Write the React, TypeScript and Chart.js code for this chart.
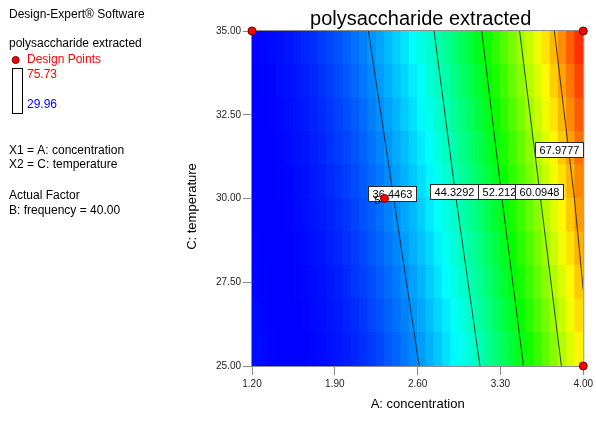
import React, { useEffect, useRef } from 'react';
import { Chart, registerables } from 'chart.js';

Chart.register(...registerables);

// ---- data ----
const xTicks = [1.2, 1.9, 2.6, 3.3, 4.0];
const yTicks = [25, 27.5, 30, 32.5, 35];

const respMin = 29.96;
const respMax = 75.73;

// concentration at the centre of each fill column
const columnCenters = [
  1.235, 1.305, 1.375, 1.445, 1.515, 1.585, 1.655, 1.725, 1.795, 1.865,
  1.935, 2.005, 2.075, 2.145, 2.215, 2.285, 2.355, 2.425, 2.495, 2.565,
  2.635, 2.705, 2.775, 2.845, 2.915, 2.985, 3.055, 3.125, 3.195, 3.265,
  3.335, 3.405, 3.475, 3.545, 3.615, 3.685, 3.755, 3.825, 3.895, 3.965,
];

// temperature bands of the fill rows
const rowBands: [number, number][] = [
  [25, 26], [26, 27], [27, 28], [28, 29], [29, 30],
  [30, 31], [31, 32], [32, 33], [33, 34], [34, 35],
];

// response in each cell (row by row, bottom to top)
const row255 = [30.5, 30.3, 30.1, 30.0, 30.0, 30.0, 30.0, 30.2, 30.3, 30.6, 30.9, 31.2, 31.6, 32.1, 32.6, 33.2, 33.8, 34.5, 35.3, 36.1, 37.0, 37.9, 38.9, 40.0, 41.1, 42.2, 43.5, 44.7, 46.1, 47.5, 48.9, 50.5, 52.0, 53.7, 55.3, 57.1, 58.9, 60.8, 62.7, 64.7];
const row265 = [30.4, 30.2, 30.0, 30.0, 30.0, 30.0, 30.1, 30.3, 30.5, 30.8, 31.1, 31.5, 31.9, 32.4, 33.0, 33.6, 34.3, 35.0, 35.8, 36.7, 37.6, 38.5, 39.5, 40.6, 41.8, 42.9, 44.2, 45.5, 46.9, 48.3, 49.8, 51.3, 52.9, 54.5, 56.3, 58.0, 59.8, 61.7, 63.7, 65.7];
const row275 = [30.2, 30.1, 30.0, 30.0, 30.0, 30.1, 30.2, 30.4, 30.7, 31.0, 31.3, 31.8, 32.3, 32.8, 33.4, 34.0, 34.7, 35.5, 36.3, 37.2, 38.1, 39.1, 40.2, 41.3, 42.4, 43.7, 44.9, 46.3, 47.7, 49.1, 50.6, 52.2, 53.8, 55.4, 57.2, 59.0, 60.8, 62.7, 64.6, 66.7];
const row285 = [30.1, 30.0, 30.0, 30.0, 30.0, 30.2, 30.3, 30.6, 30.9, 31.2, 31.6, 32.1, 32.6, 33.2, 33.8, 34.5, 35.2, 36.0, 36.9, 37.8, 38.7, 39.7, 40.8, 42.0, 43.1, 44.4, 45.7, 47.0, 48.4, 49.9, 51.4, 53.0, 54.7, 56.3, 58.1, 59.9, 61.8, 63.7, 65.6, 67.7];
const row295 = [30.0, 30.0, 30.0, 30.0, 30.1, 30.3, 30.5, 30.8, 31.1, 31.5, 31.9, 32.4, 33.0, 33.6, 34.2, 34.9, 35.7, 36.5, 37.4, 38.3, 39.3, 40.4, 41.5, 42.6, 43.8, 45.1, 46.4, 47.8, 49.2, 50.7, 52.3, 53.9, 55.5, 57.2, 59.0, 60.8, 62.7, 64.6, 66.6, 68.7];
const row305 = [30.0, 30.0, 30.0, 30.1, 30.2, 30.4, 30.7, 31.0, 31.3, 31.8, 32.2, 32.8, 33.3, 34.0, 34.7, 35.4, 36.2, 37.1, 38.0, 38.9, 39.9, 41.0, 42.1, 43.3, 44.6, 45.9, 47.2, 48.6, 50.1, 51.6, 53.1, 54.8, 56.4, 58.2, 59.9, 61.8, 63.7, 65.6, 67.6, 69.7];
const row315 = [30.0, 30.0, 30.0, 30.2, 30.4, 30.6, 30.9, 31.2, 31.6, 32.1, 32.6, 33.1, 33.7, 34.4, 35.1, 35.9, 36.7, 37.6, 38.5, 39.5, 40.6, 41.7, 42.8, 44.0, 45.3, 46.6, 48.0, 49.4, 50.9, 52.4, 54.0, 55.6, 57.3, 59.1, 60.9, 62.7, 64.6, 66.6, 68.6, 70.7];
const row325 = [30.0, 30.0, 30.1, 30.3, 30.5, 30.8, 31.1, 31.5, 31.9, 32.4, 32.9, 33.5, 34.1, 34.8, 35.6, 36.4, 37.2, 38.1, 39.1, 40.1, 41.2, 42.3, 43.5, 44.7, 46.0, 47.3, 48.7, 50.2, 51.7, 53.2, 54.8, 56.5, 58.2, 59.9, 61.8, 63.6, 65.5, 67.5, 69.5, 71.6];
const row335 = [30.0, 30.1, 30.2, 30.4, 30.7, 31.0, 31.3, 31.7, 32.2, 32.7, 33.3, 33.9, 34.6, 35.3, 36.1, 36.9, 37.8, 38.7, 39.7, 40.7, 41.8, 43.0, 44.2, 45.4, 46.7, 48.1, 49.5, 50.9, 52.5, 54.0, 55.6, 57.3, 59.0, 60.8, 62.7, 64.5, 66.5, 68.5, 70.5, 72.6];
const row345 = [30.1, 30.2, 30.4, 30.6, 30.9, 31.2, 31.6, 32.0, 32.5, 33.1, 33.7, 34.3, 35.0, 35.8, 36.6, 37.4, 38.3, 39.3, 40.3, 41.4, 42.5, 43.6, 44.9, 46.1, 47.5, 48.8, 50.3, 51.8, 53.3, 54.9, 56.5, 58.2, 60.0, 61.7, 63.6, 65.5, 67.4, 69.4, 71.5, 73.6];
const rowValues = [row255, row265, row275, row285, row295, row305, row315, row325, row335, row345];

// contour lines
const contourLevels = [36.4463, 44.3292, 52.2121, 60.0948, 67.9777];
const contourX = [
  [2.613, 2.398, 2.184],
  [3.127, 2.925, 2.739],
  [3.495, 3.313, 3.142],
  [3.815, 3.639, 3.462],
  [4.0, 3.925, 3.756],
];
const contourY = [
  [25, 30, 35],
  [25, 30, 35],
  [25, 30, 35],
  [25, 30, 35],
  [27.27, 30, 35],
];
const labelX = [2.386, 2.907, 3.31, 3.622, 3.794];
const labelY = [30.16, 30.21, 30.21, 30.21, 31.45];

// design points
const pointX = [1.2, 4.0, 4.0, 2.32];
const pointY = [35, 35, 25, 30];
const pointReps = [1, 1, 1, 5];

const panelLines = [
  'Design-Expert® Software',
  'polysaccharide extracted',
  'Design Points',
  'X1 = A: concentration',
  'X2 = C: temperature',
  'Actual Factor',
  'B: frequency = 40.00',
];

const FONT = 'Arial, "Liberation Sans", sans-serif';

function responseColor(v: number): string {
  let t = (v - respMin) / (respMax - respMin);
  t = Math.max(0, Math.min(1, t));
  let r = 0, g = 0, b = 0;
  if (t < 0.25) { r = 0; g = (255 * t) / 0.25; b = 255; }
  else if (t < 0.5) { r = 0; g = 255; b = 255 * (1 - (t - 0.25) / 0.25); }
  else if (t < 0.75) { r = (255 * (t - 0.5)) / 0.25; g = 255; b = 0; }
  else { r = 255; g = 255 * (1 - (t - 0.75) / 0.25); b = 0; }
  return `rgb(${Math.round(r)},${Math.round(g)},${Math.round(b)})`;
}

export default function App() {
  const ref = useRef<HTMLCanvasElement | null>(null);

  useEffect(() => {
    if (!ref.current) return;
    Chart.defaults.font.family = FONT;

    const barDatasets = rowBands.map((band, r) => ({
      type: 'bar',
      data: columnCenters.map(() => band),
      backgroundColor: rowValues[r].map((v) => responseColor(v)),
      borderWidth: 0,
      barPercentage: 1,
      categoryPercentage: 1,
      grouped: false,
      inflateAmount: 0.6,
      xAxisID: 'xc',
      yAxisID: 'y',
      order: 3,
    }));

    const contourDatasets = contourLevels.map((lvl, k) => ({
      type: 'line',
      data: contourX[k].map((x, j) => ({ x, y: contourY[k][j] })),
      borderColor: '#141414',
      borderWidth: 0.8,
      pointRadius: 0,
      tension: 0,
      fill: false,
      xAxisID: 'x',
      yAxisID: 'y',
      order: 2,
    }));

    const pointsDataset = {
      type: 'line',
      showLine: false,
      data: pointX.map((x, i) => ({ x, y: pointY[i] })),
      pointRadius: 4,
      pointBackgroundColor: '#ff0000',
      pointBorderColor: '#6a0000',
      pointBorderWidth: 1,
      clip: false,
      xAxisID: 'x',
      yAxisID: 'y',
      order: 1,
    };

    const pointsIndex = barDatasets.length + contourDatasets.length;

    const decor = {
      id: 'decor',
      beforeDatasetDraw(chart: any, args: any) {
        if (args.index !== pointsIndex) return;
        const ctx = chart.ctx as CanvasRenderingContext2D;
        const { left, top, right, bottom } = chart.chartArea;
        const sx = chart.scales.x;
        const sy = chart.scales.y;
        ctx.save();
        ctx.strokeStyle = '#8c8c8c';
        ctx.lineWidth = 1;
        ctx.strokeRect(left - 0.5, top - 0.5, right - left + 1, bottom - top + 1);
        // contour labels
        ctx.font = `11px ${FONT}`;
        ctx.textAlign = 'center';
        ctx.textBaseline = 'middle';
        contourLevels.forEach((lvl, k) => {
          const px = sx.getPixelForValue(labelX[k]);
          const py = sy.getPixelForValue(labelY[k]);
          const txt = lvl.toFixed(4);
          const w = Math.round(ctx.measureText(txt).width + 8);
          const h = 15;
          const bx = Math.round(px - w / 2) + 0.5;
          const by = Math.round(py - h / 2) + 0.5;
          ctx.fillStyle = '#ffffff';
          ctx.fillRect(bx, by, w, h);
          ctx.strokeStyle = '#2a2a2a';
          ctx.strokeRect(bx, by, w, h);
          ctx.fillStyle = '#000000';
          ctx.fillText(txt, bx + w / 2, by + h / 2 + 0.5);
        });
        // replicate counts
        pointReps.forEach((n, i) => {
          if (n <= 1) return;
          const px = sx.getPixelForValue(pointX[i]);
          const py = sy.getPixelForValue(pointY[i]);
          ctx.fillStyle = '#000000';
          ctx.fillText(String(n), px - 7, py + 2);
        });
        ctx.restore();
      },
      afterDraw(chart: any) {
        const ctx = chart.ctx as CanvasRenderingContext2D;
        const { left, right, top, bottom } = chart.chartArea;
        ctx.save();
        // title
        ctx.fillStyle = '#000';
        ctx.textBaseline = 'middle';
        ctx.textAlign = 'center';
        ctx.font = `20px ${FONT}`;
        ctx.fillText('polysaccharide extracted', (left + right) / 2 + 3, 19);
        // axis titles
        ctx.font = `13px ${FONT}`;
        ctx.fillText('A: concentration', (left + right) / 2, 404);
        ctx.save();
        ctx.translate(192, (top + bottom) / 2 + 8);
        ctx.rotate(-Math.PI / 2);
        ctx.fillText('C: temperature', 0, 0);
        ctx.restore();
        // left panel
        ctx.textAlign = 'left';
        ctx.font = `12px ${FONT}`;
        ctx.fillStyle = '#000';
        ctx.fillText(panelLines[0], 9, 15);
        ctx.fillText(panelLines[1], 9, 44);
        ctx.beginPath();
        ctx.arc(15.7, 60, 3.5, 0, Math.PI * 2);
        ctx.fillStyle = '#ff0000';
        ctx.fill();
        ctx.strokeStyle = '#6a0000';
        ctx.lineWidth = 1;
        ctx.stroke();
        ctx.fillStyle = '#ff0000';
        ctx.fillText(panelLines[2], 27, 60);
        ctx.strokeStyle = '#000';
        ctx.strokeRect(12.5, 68.5, 10, 45);
        ctx.fillStyle = '#ff0000';
        ctx.fillText(respMax.toFixed(2), 27, 75);
        ctx.fillStyle = '#0000ff';
        ctx.fillText(respMin.toFixed(2), 27, 105);
        ctx.fillStyle = '#000';
        ctx.fillText(panelLines[3], 9, 151);
        ctx.fillText(panelLines[4], 9, 165);
        ctx.fillText(panelLines[5], 9, 196);
        ctx.fillText(panelLines[6], 9, 211);
        ctx.restore();
      },
    };

    const chart = new Chart(ref.current, {
      type: 'bar',
      data: {
        labels: columnCenters.map((c) => String(c)),
        datasets: [...barDatasets, ...contourDatasets, pointsDataset] as any,
      },
      options: {
        animation: false,
        responsive: false,
        devicePixelRatio: 1,
        events: [],
        layout: { padding: { left: 0, top: 31, right: 11, bottom: 0 } },
        plugins: {
          legend: { display: false },
          tooltip: { enabled: false },
          title: { display: false },
        },
        scales: {
          xc: {
            type: 'category',
            display: false,
            offset: true,
          },
          x: {
            type: 'linear',
            position: 'bottom',
            offset: false,
            min: 1.2,
            max: 4.0,
            afterBuildTicks: (s: any) => {
              s.ticks = xTicks.map((v) => ({ value: v }));
            },
            afterFit: (s: any) => {
              s.height = 56;
            },
            ticks: {
              callback: (v: any) => Number(v).toFixed(2),
              font: { size: 10, family: FONT },
              color: '#222',
              padding: 3,
              maxRotation: 0,
            },
            grid: {
              display: true,
              offset: false,
              drawOnChartArea: false,
              drawTicks: true,
              tickLength: 9,
              color: '#8a8a8a',
            },
            border: { display: false },
          },
          y: {
            type: 'linear',
            position: 'left',
            offset: false,
            min: 25,
            max: 35,
            afterBuildTicks: (s: any) => {
              s.ticks = yTicks.map((v) => ({ value: v }));
            },
            afterFit: (s: any) => {
              s.width = 252;
            },
            ticks: {
              callback: (v: any) => Number(v).toFixed(2),
              font: { size: 10, family: FONT },
              color: '#222',
              padding: 2,
            },
            grid: {
              display: true,
              offset: false,
              drawOnChartArea: false,
              drawTicks: true,
              tickLength: 9,
              color: '#8a8a8a',
            },
            border: { display: false },
          },
        },
      } as any,
      plugins: [decor],
    });

    return () => chart.destroy();
  }, []);

  return (
    <div style={{ position: 'absolute', left: 0, top: 0, width: 596, height: 422, background: '#fff' }}>
      <canvas ref={ref} width={596} height={422} style={{ display: 'block' }} />
    </div>
  );
}
